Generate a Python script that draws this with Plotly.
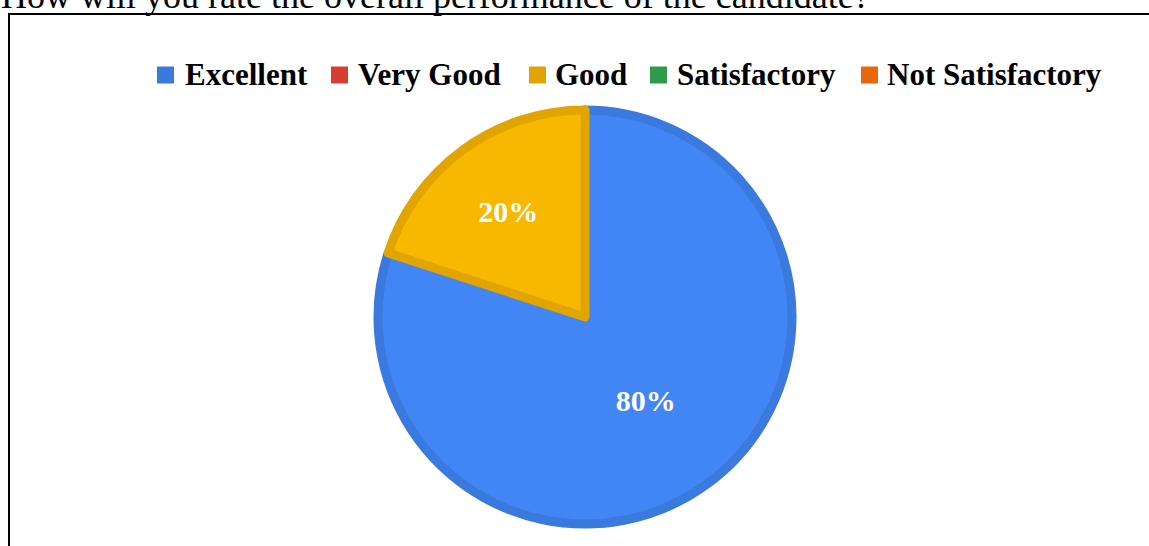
import plotly.graph_objects as go

# ---- data ----
categories = ["Excellent", "Very Good", "Good", "Satisfactory", "Not Satisfactory"]
values = [80, 0, 20, 0, 0]
fill_colors = ["#4285F4", "#EA4335", "#F9B800", "#34A853", "#FF6D01"]
edge_colors = ["#3A79DD", "#D63F30", "#E2A500", "#2F9A49", "#E8670A"]
title_text = "How will you rate the overall performance of the candidate?"

W, H = 1149, 546

def px_x(x):
    return x / W

def px_y(y):
    return 1 - y / H

fig = go.Figure()

# pie geometry (pixels)
cx, cy, r = 585, 317, 207
line_widths = [9 if v > 0 else 0 for v in values]
fig.add_trace(go.Pie(
    labels=categories,
    values=values,
    sort=False,
    direction="clockwise",
    rotation=0,
    marker=dict(colors=fill_colors, line=dict(color=edge_colors, width=line_widths)),
    texttemplate="%{percent:.0%}",
    textposition="inside",
    insidetextorientation="horizontal",
    textfont=dict(family="Liberation Serif", size=30, color="white", weight="bold"),
    domain=dict(x=[px_x(cx - r), px_x(cx + r)], y=[px_y(cy + r), px_y(cy - r)]),
    showlegend=False,
    hoverinfo="label+percent",
))

shapes = []
annotations = []

# outer frame (left and top edges only visible)
shapes.append(dict(type="line", xref="paper", yref="paper",
                   x0=px_x(9), x1=px_x(9), y0=px_y(H + 5), y1=px_y(14),
                   line=dict(color="black", width=2)))
shapes.append(dict(type="line", xref="paper", yref="paper",
                   x0=px_x(8), x1=px_x(W + 5), y0=px_y(14), y1=px_y(14),
                   line=dict(color="black", width=2)))

# title (clipped at top as in the source)
annotations.append(dict(text=title_text, xref="paper", yref="paper",
                        x=px_x(-1), y=px_y(18), xanchor="left", yanchor="bottom",
                        showarrow=False,
                        font=dict(family="Liberation Serif", size=36, color="black")))

# custom legend
sq_x = [157, 331, 529, 650, 861]
txt_x = [183, 356, 553, 675, 885]
ly = 75
sq = 17
for i, cat in enumerate(categories):
    shapes.append(dict(type="rect", xref="paper", yref="paper",
                       x0=px_x(sq_x[i]), x1=px_x(sq_x[i] + sq),
                       y0=px_y(ly + sq / 2), y1=px_y(ly - sq / 2),
                       fillcolor=edge_colors[i], line=dict(width=0)))
    annotations.append(dict(text="<b>" + cat + "</b>", xref="paper", yref="paper",
                            x=px_x(txt_x[i]), y=px_y(ly), xanchor="left", yanchor="middle",
                            showarrow=False,
                            font=dict(family="Liberation Serif", size=31, color="black")))

fig.update_layout(
    width=W, height=H,
    margin=dict(l=0, r=0, t=0, b=0),
    paper_bgcolor="white",
    plot_bgcolor="white",
    shapes=shapes,
    annotations=annotations,
)

fig.write_html("out.html", config={"displayModeBar": False},
               post_script="document.body.style.margin='0px';")
